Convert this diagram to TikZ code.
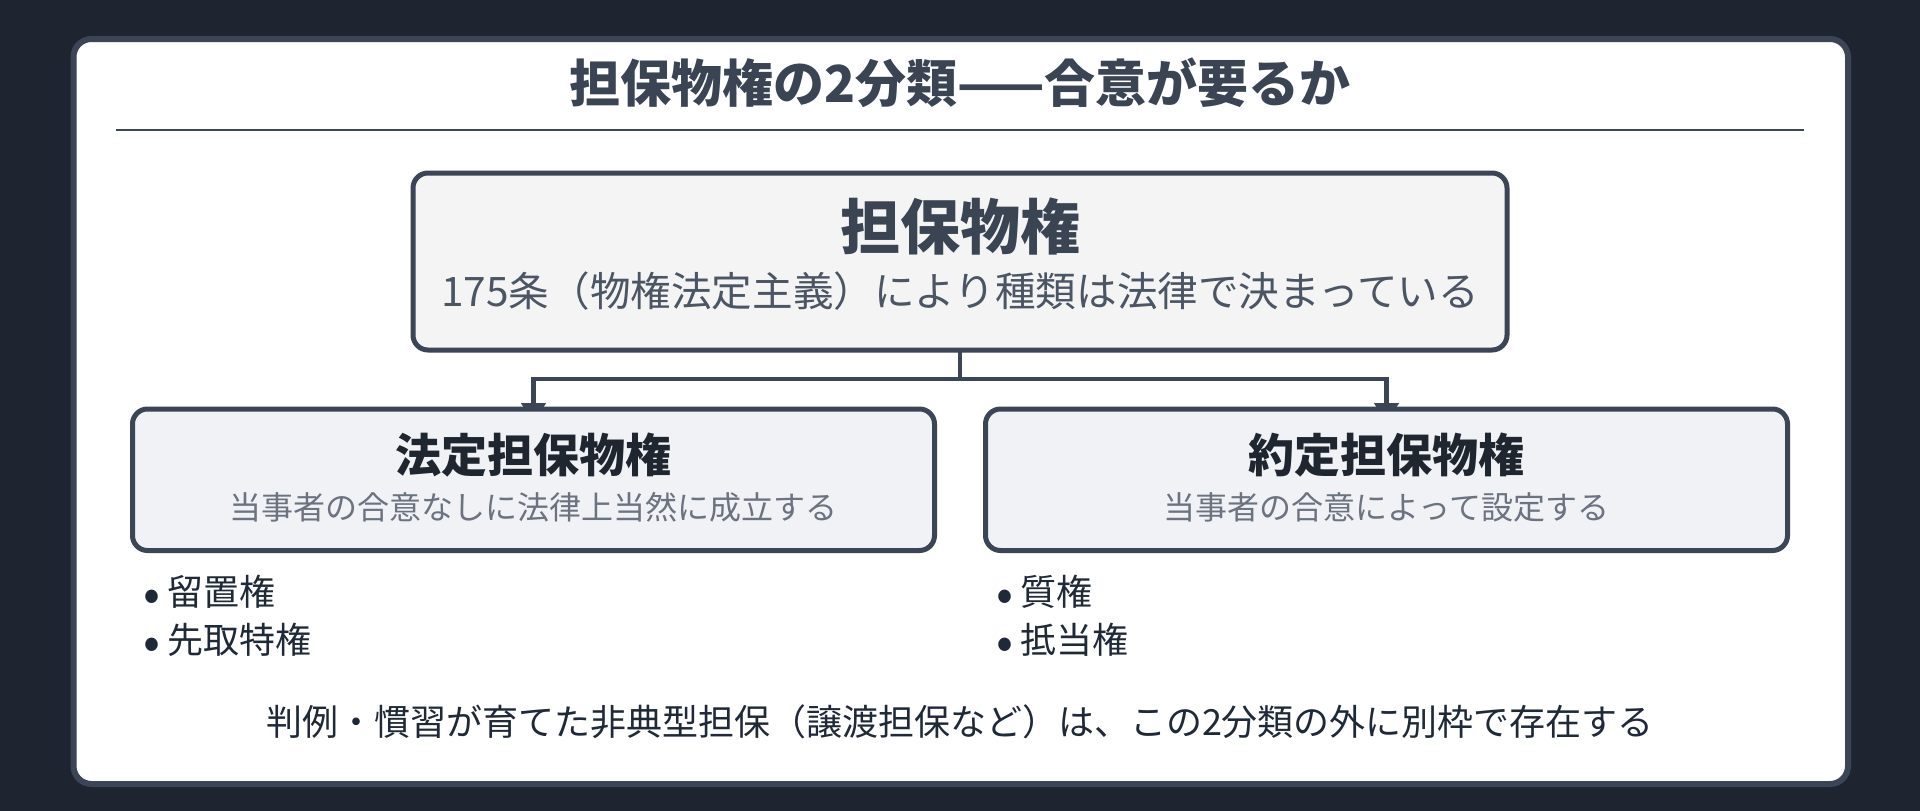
\documentclass[tikz,border=0pt]{standalone}
\usepackage{fontspec}
\setmainfont{Noto Sans CJK JP}
\usetikzlibrary{arrows.meta}
\definecolor{bgdark}{HTML}{1E2530}
\definecolor{edge}{HTML}{3B4556}
\definecolor{titlec}{HTML}{3B4453}
\definecolor{topfill}{HTML}{F4F4F5}
\definecolor{kidfill}{HTML}{F0F2F5}
\definecolor{kidtitle}{HTML}{1F2630}
\definecolor{topsub}{HTML}{4B5563}
\definecolor{kidsub}{HTML}{6B7280}
\definecolor{bodyc}{HTML}{1F2937}
\pgfdeclarelayer{back}
\pgfdeclarelayer{mid}
\pgfsetlayers{back,mid,main}
\tikzset{
  cardbox/.style={draw=edge, line width=6pt, fill=white, rounded corners=18pt, inner sep=0pt, outer sep=0pt},
  topbox/.style={draw=edge, line width=5pt, fill=topfill, rounded corners=15pt, inner sep=0pt, outer sep=0pt},
  kidbox/.style={draw=edge, line width=5pt, fill=kidfill, rounded corners=15pt, inner sep=0pt, outer sep=0pt},
  conn/.style={draw=edge, line width=4.5pt, -{Triangle[width=24pt,length=20pt]}, shorten >=-14pt},
  txt/.style={inner sep=0pt, outer sep=0pt, anchor=base},
  txtw/.style={inner sep=0pt, outer sep=0pt, anchor=base west},
  maintitle/.style={txt, text=titlec, font=\fontsize{51}{60}\selectfont\bfseries},
  toptitle/.style={txt, text=titlec, font=\fontsize{60}{70}\selectfont\bfseries},
  topsubt/.style={txt, text=topsub, font=\fontsize{40.6}{48}\selectfont},
  kidtitlet/.style={txt, text=kidtitle, font=\fontsize{46}{54}\selectfont\bfseries},
  kidsubt/.style={txt, text=kidsub, font=\fontsize{32}{38}\selectfont},
  bul/.style={txt, text=bodyc, font=\fontsize{50}{56}\selectfont},
  item/.style={txtw, text=bodyc, font=\fontsize{36}{42}\selectfont},
  note/.style={txt, text=bodyc, font=\fontsize{36}{42}\selectfont}
}
\begin{document}
\begin{tikzpicture}[x=1pt,y=-1pt]
\useasboundingbox (0,0) rectangle (1920,811);
\begin{pgfonlayer}{back}
\fill[bgdark] (0,0) rectangle (1920,811);
\node[cardbox, minimum width=1774.5pt, minimum height=745pt] (card) at (960.75,411.5) {};
\end{pgfonlayer}
% title
\node[maintitle] (title) at (960,102) {担保物権の2分類——合意が要るか};
\draw[edge, line width=2.5pt] (116,130) -- (1804,130);
% boxes
\node[topbox, minimum width=1094pt, minimum height=177pt] (top) at (960,261.5) {};
\node[kidbox, minimum width=802pt, minimum height=141.5pt] (left) at (533.5,479.75) {};
\node[kidbox, minimum width=802pt, minimum height=141.5pt] (right) at (1386.5,479.75) {};
% texts
\node[toptitle] (toptxt) at (960,249) {担保物権};
\node[topsubt] (topsubtxt) at (960,306) {175条（物権法定主義）により種類は法律で決まっている};
\node[kidtitlet] (lefttxt) at (533.5,472) {法定担保物権};
\node[kidsubt] (leftsub) at (533.5,519) {当事者の合意なしに法律上当然に成立する};
\node[kidtitlet] (righttxt) at (1386.5,472) {約定担保物権};
\node[kidsubt] (rightsub) at (1386.5,519) {当事者の合意によって設定する};
% bullets
\node[bul] (lb1) at (152,611) {•};
\node[item] (li1) at (167,605) {留置権};
\node[bul] (lb2) at (152,659) {•};
\node[item] (li2) at (167,653) {先取特権};
\node[bul] (rb1) at (1005,611) {•};
\node[item] (ri1) at (1020,605) {質権};
\node[bul] (rb2) at (1005,659) {•};
\node[item] (ri2) at (1020,653) {抵当権};
% note
\node[note] (notetxt) at (960,735) {判例・慣習が育てた非典型担保（譲渡担保など）は、この2分類の外に別枠で存在する};
% connectors
\begin{pgfonlayer}{mid}
\draw[conn] (top.south) -- ++(0,29) -| (left.north);
\draw[conn] (top.south) -- ++(0,29) -| (right.north);
\end{pgfonlayer}
\end{tikzpicture}
\end{document}
